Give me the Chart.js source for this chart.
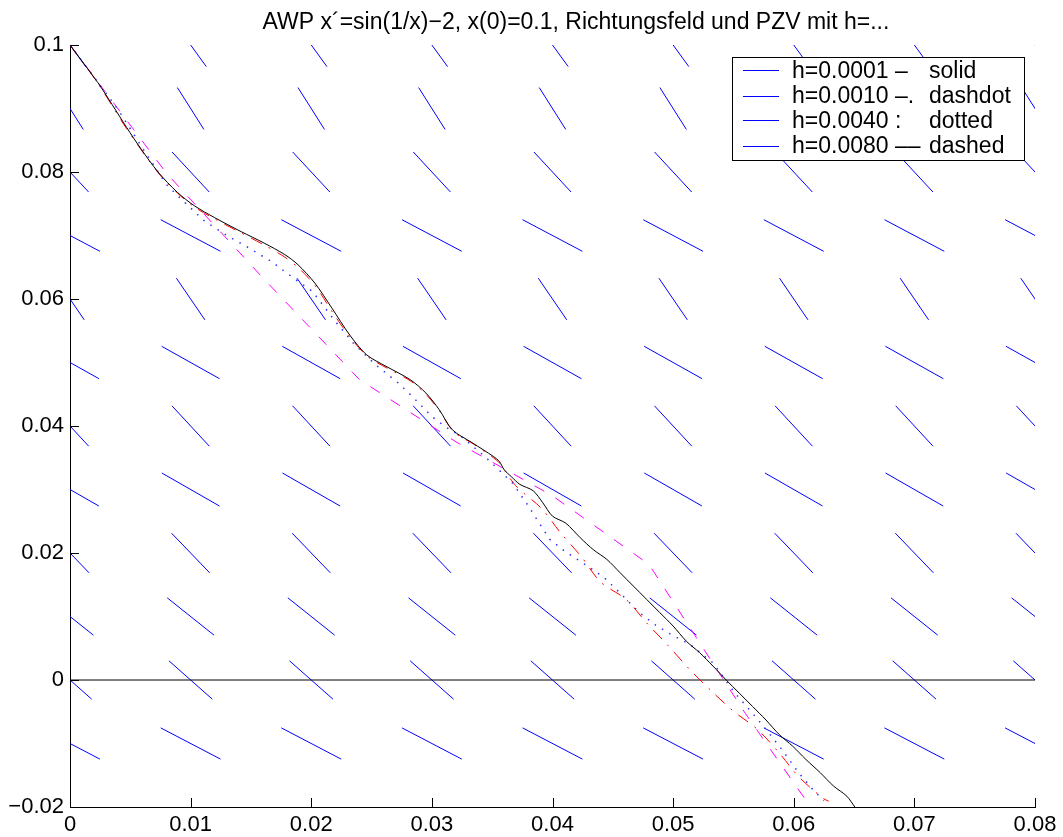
<!DOCTYPE html>
<html>
<head>
<meta charset="utf-8">
<script src="https://cdn.jsdelivr.net/npm/chart.js@4.4.0/dist/chart.umd.min.js"></script>
<style>
body { margin: 0; background: #fff; }
#wrap { width: 1063px; height: 837px; }
</style>
</head>
<body>
<div id="wrap"><canvas id="awpChart" width="1063" height="837"></canvas></div>
<script>
// Axis ticks
const xTicks = [0, 0.01, 0.02, 0.03, 0.04, 0.05, 0.06, 0.07, 0.08];
const xTickLabels = ['0', '0.01', '0.02', '0.03', '0.04', '0.05', '0.06', '0.07', '0.08'];
const yTicks = [-0.02, 0, 0.02, 0.04, 0.06, 0.08, 0.1];
const yTickLabels = ['\u22120.02', '0', '0.02', '0.04', '0.06', '0.08', '0.1'];

// Richtungsfeld: grid and half extents of each row's segment
const fieldCols = [0, 0.01, 0.02, 0.03, 0.04, 0.05, 0.06, 0.07, 0.08];
const fieldRows = [0.1, 0.09, 0.08, 0.07, 0.06, 0.05, 0.04, 0.03, 0.02, 0.01, 0, -0.01];
const fieldHalfT = [0.0013, 0.0011, 0.00154, 0.00248, 0.00118, 0.0024, 0.00155, 0.00239, 0.00158, 0.00194, 0.0018, 0.00248];
const fieldHalfX = [0.0034, 0.0033, 0.00315, 0.00249, 0.00328, 0.00255, 0.00318, 0.0026, 0.00312, 0.00294, 0.00302, 0.00246];

// h=0.0001 solid
const tSolid = [0, 0.0023, 0.0035, 0.0047, 0.0059, 0.0073, 0.0089, 0.0103, 0.0120, 0.0142,
  0.0161, 0.0178, 0.0189, 0.0203, 0.0217, 0.0232, 0.0246, 0.0262, 0.0282, 0.0295,
  0.0306, 0.0317, 0.0334, 0.0351, 0.0356, 0.0360, 0.0366, 0.0373, 0.0384, 0.0392,
  0.0400, 0.0411, 0.0423, 0.0434, 0.0445, 0.0456, 0.0467, 0.0478, 0.0489, 0.0500,
  0.0511, 0.0522, 0.0533, 0.0544, 0.0555, 0.0566, 0.0577, 0.0588, 0.0599, 0.0610,
  0.0622, 0.0633, 0.0644, 0.0651];
const xSolid = [0.1, 0.0941, 0.0906, 0.0870, 0.0836, 0.0800, 0.0768, 0.0747, 0.0728, 0.0706,
  0.0688, 0.0670, 0.0654, 0.0625, 0.0586, 0.0543, 0.0512, 0.0494, 0.0473, 0.0452,
  0.0426, 0.0394, 0.0373, 0.0352, 0.0344, 0.0331, 0.0320, 0.0308, 0.0298, 0.0279,
  0.0258, 0.0247, 0.0224, 0.0205, 0.0190, 0.0169, 0.0148, 0.0127, 0.0106, 0.0085,
  0.0061, 0.0043, 0.0022, 0.0000, -0.0021, -0.0042, -0.0063, -0.0086, -0.0104, -0.0125,
  -0.0146, -0.0167, -0.0183, -0.0201];

// h=0.0010 dashdot
const tDashdot = [0, 0.0023, 0.0047, 0.0073, 0.0089, 0.0103, 0.0120, 0.0142, 0.0161, 0.0178,
  0.0190, 0.0204, 0.0218, 0.0233, 0.0247, 0.0263, 0.0283, 0.0296, 0.0307, 0.0318,
  0.0335, 0.0351, 0.0357, 0.0362, 0.0371, 0.0391, 0.0407, 0.0424, 0.0440, 0.0461,
  0.0478, 0.0496, 0.0513, 0.0531, 0.0550, 0.0570, 0.0588, 0.0604, 0.0624, 0.0629];
const xDashdot = [0.1, 0.0940, 0.0868, 0.0799, 0.0767, 0.0745, 0.0726, 0.0704, 0.0685, 0.0666,
  0.0648, 0.0619, 0.0578, 0.0538, 0.0509, 0.0491, 0.0470, 0.0448, 0.0422, 0.0391,
  0.0371, 0.0350, 0.0340, 0.0325, 0.0303, 0.0270, 0.0231, 0.0194, 0.0154, 0.0127,
  0.0090, 0.0054, 0.0018, -0.0016, -0.0049, -0.0078, -0.0115, -0.0152, -0.0186, -0.0191];

// h=0.0040 dotted
const tDotted = [0, 0.0033, 0.0040, 0.0060, 0.0080, 0.0094, 0.0112, 0.0131, 0.0146, 0.0167,
  0.0186, 0.0201, 0.0219, 0.0236, 0.0253, 0.0272, 0.0283, 0.0300, 0.0311, 0.0324,
  0.0337, 0.0345, 0.0367, 0.0380, 0.0389, 0.0398, 0.0410, 0.0431, 0.0443, 0.0456,
  0.0472, 0.0485, 0.0498, 0.0514, 0.0533, 0.0551, 0.0562, 0.0575, 0.0590, 0.0604,
  0.0617, 0.0625];
const xDotted = [0.1, 0.0916, 0.0898, 0.0838, 0.0780, 0.0754, 0.0722, 0.0699, 0.0683, 0.0659,
  0.0632, 0.0612, 0.0567, 0.0528, 0.0497, 0.0468, 0.0448, 0.0415, 0.0399, 0.0384,
  0.0363, 0.0350, 0.0310, 0.0274, 0.0247, 0.0221, 0.0203, 0.0177, 0.0161, 0.0137,
  0.0106, 0.0087, 0.0072, 0.0056, 0.0027, -0.0020, -0.0044, -0.0073, -0.0109, -0.0146,
  -0.0175, -0.0190];

// h=0.0080 dashed
const tDashed = [0, 0.008, 0.016, 0.024, 0.032, 0.040, 0.048, 0.056, 0.0614];
const xDashed = [0.1, 0.0798, 0.0633, 0.0473, 0.0375, 0.0290, 0.0182, -0.0053, -0.0200];

const legendLabels = ['h=0.0001 \u2013', 'h=0.0010 \u2013.', 'h=0.0040 :', 'h=0.0080 \u2013\u2013'];
const legendStyles = ['solid', 'dashdot', 'dotted', 'dashed'];
const titleText = 'AWP x\u00b4=sin(1/x)\u22122, x(0)=0.1, Richtungsfeld und PZV mit h=...';

const FONT = '"Liberation Sans", Arial, Helvetica, sans-serif';

function toPoints(ts, xs) {
    return ts.map((t, i) => ({ x: t, y: xs[i] }));
}

// segments of the direction field, separated by gaps
const fieldData = [];
fieldRows.forEach((x0, r) => {
    fieldCols.forEach(t0 => {
        fieldData.push({ x: t0 - fieldHalfT[r], y: x0 + fieldHalfX[r] });
        fieldData.push({ x: t0 + fieldHalfT[r], y: x0 - fieldHalfX[r] });
        fieldData.push({ x: t0, y: null });
    });
});

function curve(data, color, dash, tension, width) {
    return {
        data: data,
        showLine: true,
        borderColor: color,
        borderWidth: width || 1,
        borderDash: dash,
        pointRadius: 0,
        tension: tension || 0,
        spanGaps: false,
        clip: 0
    };
}

// inward ticks, title and the legend box
const decorations = {
    id: 'decorations',
    afterDraw(chart) {
        const { ctx, chartArea: a, scales } = chart;
        ctx.save();
        ctx.setLineDash([]);
        ctx.strokeStyle = '#000';
        ctx.lineWidth = 1;
        ctx.beginPath();
        xTicks.forEach(v => {
            const px = Math.round(scales.x.getPixelForValue(v)) + 0.5;
            ctx.moveTo(px, a.bottom);
            ctx.lineTo(px, a.bottom - 9);
        });
        yTicks.forEach(v => {
            const py = Math.round(scales.y.getPixelForValue(v)) + 0.5;
            ctx.moveTo(a.left, py);
            ctx.lineTo(a.left + 9, py);
        });
        ctx.stroke();

        ctx.fillStyle = '#000';
        ctx.font = '23px ' + FONT;
        ctx.textAlign = 'center';
        ctx.textBaseline = 'alphabetic';
        ctx.fillText(titleText, 576, 29);

        // legend
        ctx.fillStyle = '#fff';
        ctx.fillRect(732, 57, 292, 103);
        ctx.strokeStyle = '#000';
        ctx.strokeRect(732.5, 57.5, 292, 103);
        const rowY = [70.5, 96.5, 120.5, 146.5];
        legendLabels.forEach((label, i) => {
            ctx.strokeStyle = '#0000ff';
            ctx.beginPath();
            ctx.moveTo(743, rowY[i]);
            ctx.lineTo(779, rowY[i]);
            ctx.stroke();
        });
        ctx.fillStyle = '#000';
        ctx.font = '23px ' + FONT;
        ctx.textAlign = 'left';
        legendLabels.forEach((label, i) => {
            const yy = 78 + i * 25;
            ctx.fillText(label, 792, yy);
            ctx.fillText(legendStyles[i], 929, yy);
        });
        ctx.restore();
    }
};

const ctx = document.getElementById('awpChart').getContext('2d');
const awpChart = new Chart(ctx, {
    type: 'scatter',
    data: {
        datasets: [
            curve(toPoints(tSolid, xSolid), '#000000', [], 0.3),
            curve(toPoints(tDashdot, xDashdot), '#ff0000', [12, 8, 2, 8], 0.3),
            curve(toPoints(tDotted, xDotted), '#3030ff', [1.5, 7], 0, 1.5),
            curve(toPoints(tDashed, xDashed), '#ff00ff', [11, 13]),
            curve([{ x: 0, y: 0 }, { x: 0.08, y: 0 }], '#000000', []),
            curve(fieldData, '#0000ff', [])
        ]
    },
    options: {
        responsive: false,
        animation: false,
        layout: {
            padding: { top: 45, right: 28, left: 0, bottom: 0 }
        },
        plugins: {
            legend: { display: false },
            tooltip: { enabled: false },
            title: { display: false }
        },
        scales: {
            x: {
                type: 'linear',
                min: 0,
                max: 0.08,
                afterBuildTicks: scale => { scale.ticks = xTicks.map(v => ({ value: v })); },
                afterFit: scale => { scale.height = 30; },
                grid: { drawOnChartArea: false, drawTicks: false },
                border: { display: true, color: '#000', width: 1 },
                ticks: {
                    autoSkip: false,
                    maxRotation: 0,
                    padding: 5,
                    color: '#000',
                    font: { family: FONT, size: 22 },
                    callback: (value, index) => xTickLabels[index]
                }
            },
            y: {
                type: 'linear',
                min: -0.02,
                max: 0.1,
                afterBuildTicks: scale => { scale.ticks = yTicks.map(v => ({ value: v })); },
                afterFit: scale => { scale.width = 70; },
                grid: { drawOnChartArea: false, drawTicks: false },
                border: { display: true, color: '#000', width: 1 },
                ticks: {
                    autoSkip: false,
                    padding: 6,
                    color: '#000',
                    font: { family: FONT, size: 22 },
                    callback: (value, index) => yTickLabels[index]
                }
            }
        }
    },
    plugins: [decorations]
});
</script>
</body>
</html>
